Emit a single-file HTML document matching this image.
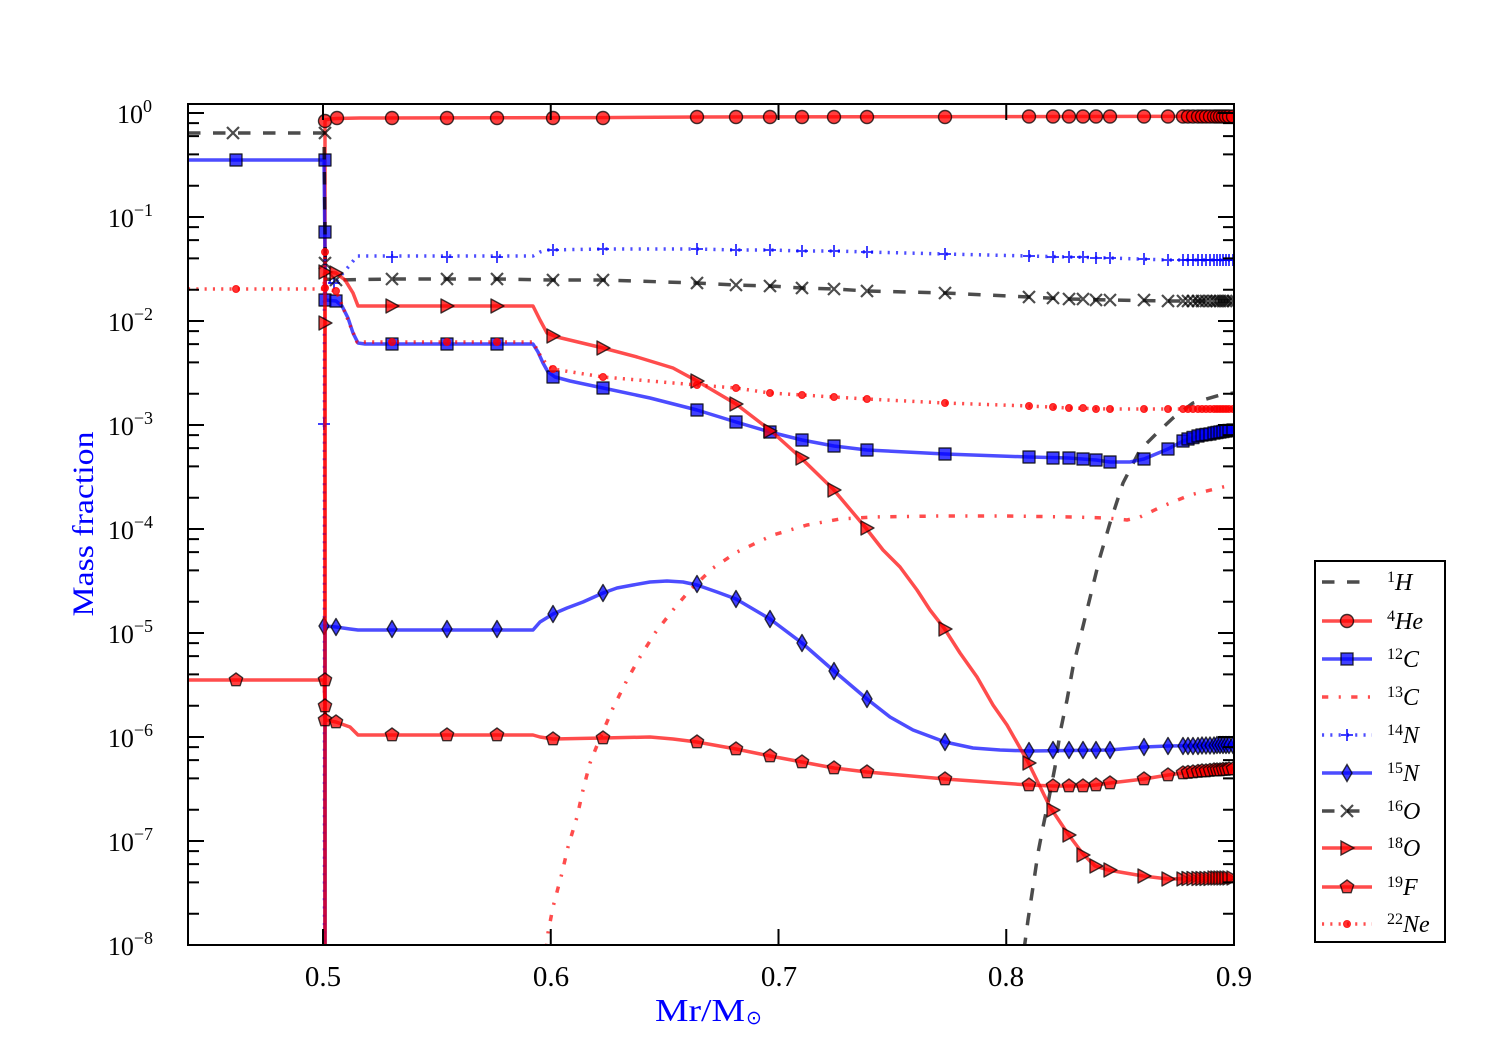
<!DOCTYPE html>
<html><head><meta charset="utf-8">
<style>
html,body{margin:0;padding:0;background:#fff;}
svg{display:block;font-family:"Liberation Serif",serif;}
.it{font-style:italic;}
</style></head>
<body>
<svg width="1500" height="1050" viewBox="0 0 1500 1050" xmlns="http://www.w3.org/2000/svg">
<defs>
<clipPath id="cp"><rect x="188" y="104" width="1046" height="841"/></clipPath>
<g id="mc"><circle r="6.5" fill="#f00" fill-opacity=".75" stroke="#000" stroke-opacity=".75" stroke-width="1.4"/></g>
<g id="ms"><rect x="-6" y="-6" width="12" height="12" fill="#00f" fill-opacity=".75" stroke="#000" stroke-opacity=".75" stroke-width="1.4"/></g>
<g id="md"><path d="M0,-8.5L5,0L0,8.5L-5,0Z" fill="#00f" fill-opacity=".75" stroke="#000" stroke-opacity=".75" stroke-width="1.4"/></g>
<g id="mp"><path d="M-6,0H6M0,-6V6" stroke="#00f" stroke-opacity=".75" stroke-width="2" fill="none"/></g>
<g id="mx"><path d="M-6,-6L6,6M-6,6L6,-6" stroke="#000" stroke-opacity=".7" stroke-width="2.2" fill="none"/></g>
<g id="mt"><path d="M7,0L-6,-7L-6,7Z" fill="#f00" fill-opacity=".75" stroke="#000" stroke-opacity=".75" stroke-width="1.4"/></g>
<g id="mg"><path d="M0,-7L6.66,-2.16L4.11,5.66L-4.11,5.66L-6.66,-2.16Z" fill="#f00" fill-opacity=".75" stroke="#000" stroke-opacity=".75" stroke-width="1.4"/></g>
<g id="mn"><circle r="3.5" fill="#f00" fill-opacity=".8" stroke="#f00" stroke-opacity=".8" stroke-width="1"/></g>
</defs>
<rect width="1500" height="1050" fill="#fff"/>

<g clip-path="url(#cp)" fill="none" stroke-width="3.5" stroke-linejoin="round">
<!-- 1H -->
<polyline stroke="#000" stroke-opacity=".7" stroke-dasharray="12.5 12.5" points="1024,950 1028,920 1033,887 1038,853 1043,827 1048,803 1055,767 1060,733 1067,700 1073,667 1087,610 1100,557 1110,523 1123,483 1140,450 1157,433 1173,418 1193,403 1220,395 1234,393"/>
<!-- 4He -->
<polyline stroke="#f00" stroke-opacity=".7" points="325,950 325,120 330,119 336,118.5 360,118 600,117.6 700,117 1000,116.6 1234,116.3"/>
<g>
<use href="#mc" x="325" y="121"/><use href="#mc" x="337" y="118"/><use href="#mc" x="392" y="118"/><use href="#mc" x="447" y="118"/><use href="#mc" x="497" y="118"/><use href="#mc" x="553" y="118"/><use href="#mc" x="603" y="118"/><use href="#mc" x="697" y="117"/><use href="#mc" x="736" y="117"/><use href="#mc" x="770" y="117"/><use href="#mc" x="802" y="117"/><use href="#mc" x="834" y="117"/><use href="#mc" x="867" y="117"/><use href="#mc" x="945" y="117"/><use href="#mc" x="1029" y="116.5"/><use href="#mc" x="1053" y="116.5"/><use href="#mc" x="1069" y="116.5"/><use href="#mc" x="1083" y="116.5"/><use href="#mc" x="1096" y="116.5"/><use href="#mc" x="1110" y="116.5"/><use href="#mc" x="1144" y="116.5"/><use href="#mc" x="1168" y="116.5"/><use href="#mc" x="1183" y="116.5"/><use href="#mc" x="1188" y="116.5"/><use href="#mc" x="1193" y="116.5"/><use href="#mc" x="1198" y="116.5"/><use href="#mc" x="1202" y="116.5"/><use href="#mc" x="1206" y="116.5"/><use href="#mc" x="1210" y="116.5"/><use href="#mc" x="1214" y="116.5"/><use href="#mc" x="1217" y="116.5"/><use href="#mc" x="1220" y="116.5"/><use href="#mc" x="1223" y="116.5"/><use href="#mc" x="1226" y="116.5"/><use href="#mc" x="1229" y="116.5"/><use href="#mc" x="1233" y="116.5"/>
</g>
<!-- 12C -->
<polyline stroke="#00f" stroke-opacity=".7" points="188,160 324,160 325.5,300 336,301 342,306 348,318 353,333 358,343 365,344 533,344 538,352 543,363 548,372 555,377 570,381 603,388 650,398 697,410 736,422 770,432 802,440 834,446 867,450 945,454 1029,457 1069,458 1096,460 1110,462 1130,462 1144,459 1168,449 1183,441 1195,437 1210,434 1234,430"/>
<g>
<use href="#ms" x="236" y="160"/><use href="#ms" x="325" y="160"/><use href="#ms" x="325" y="232"/><use href="#ms" x="325" y="300"/><use href="#ms" x="336" y="301"/><use href="#ms" x="392" y="344"/><use href="#ms" x="447" y="344"/><use href="#ms" x="497" y="344"/><use href="#ms" x="553" y="377"/><use href="#ms" x="603" y="388"/><use href="#ms" x="697" y="410"/><use href="#ms" x="736" y="422"/><use href="#ms" x="770" y="432"/><use href="#ms" x="802" y="440"/><use href="#ms" x="834" y="446"/><use href="#ms" x="867" y="450"/><use href="#ms" x="945" y="454"/><use href="#ms" x="1029" y="457"/><use href="#ms" x="1053" y="458"/><use href="#ms" x="1069" y="458"/><use href="#ms" x="1083" y="459"/><use href="#ms" x="1096" y="460"/><use href="#ms" x="1110" y="462"/><use href="#ms" x="1144" y="459"/><use href="#ms" x="1168" y="449"/><use href="#ms" x="1183" y="441"/><use href="#ms" x="1188" y="439"/><use href="#ms" x="1193" y="437.5"/><use href="#ms" x="1198" y="436"/><use href="#ms" x="1202" y="435"/><use href="#ms" x="1206" y="434.5"/><use href="#ms" x="1210" y="434"/><use href="#ms" x="1214" y="433"/><use href="#ms" x="1217" y="432.5"/><use href="#ms" x="1220" y="432"/><use href="#ms" x="1223" y="431.5"/><use href="#ms" x="1226" y="431"/><use href="#ms" x="1229" y="430.5"/><use href="#ms" x="1233" y="430"/>
</g>
<!-- 13C -->
<polyline stroke="#f00" stroke-opacity=".7" stroke-dasharray="6.3 10.4 2.1 10.4" points="546,950 548,933 553,907 562,873 568,847 577,817 583,790 590,763 598,743 607,722 613,708 627,680 640,657 655,633 673,610 690,590 713,568 737,552 773,535 807,525 840,519 873,517 940,516 1007,516 1073,517 1107,518 1127,520 1140,517 1163,506 1190,495 1223,487 1234,485"/>
<!-- 14N -->
<polyline stroke="#00f" stroke-opacity=".7" stroke-dasharray="2.1 6.2" points="324.5,950 324.5,282 336,282 343,273 350,265 357,256 533,256 540,252 547,250 603,249 697,249 736,250 770,250 802,251 834,251 867,252 945,254 1029,256 1110,258 1168,260 1234,260"/>
<g>
<use href="#mp" x="324" y="424"/><use href="#mp" x="334" y="283"/><use href="#mp" x="392" y="257"/><use href="#mp" x="447" y="257"/><use href="#mp" x="497" y="257"/><use href="#mp" x="553" y="250"/><use href="#mp" x="603" y="249"/><use href="#mp" x="697" y="249"/><use href="#mp" x="736" y="250"/><use href="#mp" x="770" y="250"/><use href="#mp" x="802" y="251"/><use href="#mp" x="834" y="251"/><use href="#mp" x="867" y="252"/><use href="#mp" x="945" y="254"/><use href="#mp" x="1029" y="256"/><use href="#mp" x="1053" y="257"/><use href="#mp" x="1069" y="257"/><use href="#mp" x="1083" y="257"/><use href="#mp" x="1096" y="258"/><use href="#mp" x="1110" y="258"/><use href="#mp" x="1144" y="259"/><use href="#mp" x="1168" y="260"/><use href="#mp" x="1183" y="260"/><use href="#mp" x="1188" y="260"/><use href="#mp" x="1193" y="260"/><use href="#mp" x="1198" y="260"/><use href="#mp" x="1202" y="260"/><use href="#mp" x="1206" y="260"/><use href="#mp" x="1210" y="260"/><use href="#mp" x="1214" y="260"/><use href="#mp" x="1217" y="260"/><use href="#mp" x="1220" y="260"/><use href="#mp" x="1223" y="260"/><use href="#mp" x="1226" y="260"/><use href="#mp" x="1229" y="260"/><use href="#mp" x="1233" y="260"/>
</g>
<!-- 15N -->
<polyline stroke="#00f" stroke-opacity=".7" points="325,950 325,626 336,627 350,629 358,630 533,630 540,622 553,614 567,608 583,602 603,593 617,588 633,585 650,582 667,581 683,582 697,585 717,592 736,599 770,619 802,643 834,671 867,699 890,717 913,730 945,742 973,748 1000,750 1029,751 1110,750 1144,747 1168,746 1234,745"/>
<g>
<use href="#md" x="324" y="626"/><use href="#md" x="336" y="627"/><use href="#md" x="392" y="629"/><use href="#md" x="447" y="629"/><use href="#md" x="497" y="629"/><use href="#md" x="553" y="614"/><use href="#md" x="603" y="593"/><use href="#md" x="697" y="584"/><use href="#md" x="736" y="599"/><use href="#md" x="770" y="619"/><use href="#md" x="802" y="643"/><use href="#md" x="834" y="671"/><use href="#md" x="867" y="699"/><use href="#md" x="945" y="742"/><use href="#md" x="1029" y="751"/><use href="#md" x="1053" y="750"/><use href="#md" x="1069" y="750"/><use href="#md" x="1083" y="750"/><use href="#md" x="1096" y="750"/><use href="#md" x="1110" y="750"/><use href="#md" x="1144" y="747"/><use href="#md" x="1168" y="746"/><use href="#md" x="1183" y="746"/><use href="#md" x="1188" y="746"/><use href="#md" x="1193" y="746"/><use href="#md" x="1198" y="746"/><use href="#md" x="1202" y="745.5"/><use href="#md" x="1206" y="745.5"/><use href="#md" x="1210" y="745.5"/><use href="#md" x="1214" y="745.5"/><use href="#md" x="1217" y="745"/><use href="#md" x="1220" y="745"/><use href="#md" x="1223" y="745"/><use href="#md" x="1226" y="745"/><use href="#md" x="1229" y="745"/><use href="#md" x="1233" y="745"/>
</g>
<!-- 16O -->
<polyline stroke="#000" stroke-opacity=".7" stroke-dasharray="12.5 12.5" points="188,133 324,133 325.5,279 336,280 392,279 497,279 553,280 603,280 697,283 736,285 770,286 802,288 834,289 867,291 945,293 1029,297 1069,299 1110,300 1168,301 1234,301"/>
<g>
<use href="#mx" x="233" y="133"/><use href="#mx" x="325" y="133"/><use href="#mx" x="325" y="263"/><use href="#mx" x="336" y="280"/><use href="#mx" x="392" y="279"/><use href="#mx" x="447" y="279"/><use href="#mx" x="497" y="279"/><use href="#mx" x="553" y="280"/><use href="#mx" x="603" y="280"/><use href="#mx" x="697" y="283"/><use href="#mx" x="736" y="285"/><use href="#mx" x="770" y="286"/><use href="#mx" x="802" y="288"/><use href="#mx" x="834" y="289"/><use href="#mx" x="867" y="291"/><use href="#mx" x="945" y="293"/><use href="#mx" x="1029" y="297"/><use href="#mx" x="1053" y="298"/><use href="#mx" x="1069" y="299"/><use href="#mx" x="1083" y="299"/><use href="#mx" x="1096" y="300"/><use href="#mx" x="1110" y="300"/><use href="#mx" x="1144" y="300"/><use href="#mx" x="1168" y="301"/><use href="#mx" x="1183" y="301"/><use href="#mx" x="1188" y="301"/><use href="#mx" x="1193" y="301"/><use href="#mx" x="1198" y="301"/><use href="#mx" x="1202" y="301"/><use href="#mx" x="1206" y="301"/><use href="#mx" x="1210" y="301"/><use href="#mx" x="1214" y="301"/><use href="#mx" x="1217" y="301"/><use href="#mx" x="1220" y="301"/><use href="#mx" x="1223" y="301"/><use href="#mx" x="1226" y="301"/><use href="#mx" x="1229" y="301"/><use href="#mx" x="1233" y="301"/>
</g>
<!-- 18O -->
<polyline stroke="#f00" stroke-opacity=".7" points="325,950 325,272 336,273 345,280 353,293 358,306 533,306 540,320 547,333 557,337 603,348 637,357 673,368 697,381 736,404 770,430 800,457 833,489 865,527 883,550 900,567 917,590 930,610 944,628 960,653 977,677 993,705 1007,725 1028,762 1050,807 1068,834 1083,854 1095,866 1108,870 1143,876 1168,879 1234,878"/>
<g>
<use href="#mt" x="325" y="272"/><use href="#mt" x="325" y="323"/><use href="#mt" x="336" y="273"/><use href="#mt" x="392" y="306"/><use href="#mt" x="447" y="306"/><use href="#mt" x="497" y="306"/><use href="#mt" x="553" y="336"/><use href="#mt" x="603" y="348"/><use href="#mt" x="697" y="381"/><use href="#mt" x="736" y="404"/><use href="#mt" x="770" y="431"/><use href="#mt" x="802" y="458"/><use href="#mt" x="834" y="490"/><use href="#mt" x="867" y="528"/><use href="#mt" x="945" y="629"/><use href="#mt" x="1029" y="763"/><use href="#mt" x="1053" y="810"/><use href="#mt" x="1069" y="835"/><use href="#mt" x="1083" y="855"/><use href="#mt" x="1096" y="866"/><use href="#mt" x="1110" y="870"/><use href="#mt" x="1144" y="876"/><use href="#mt" x="1168" y="879"/><use href="#mt" x="1183" y="879"/><use href="#mt" x="1188" y="878.5"/><use href="#mt" x="1193" y="878.5"/><use href="#mt" x="1198" y="878.5"/><use href="#mt" x="1202" y="878.5"/><use href="#mt" x="1206" y="878.5"/><use href="#mt" x="1210" y="878.5"/><use href="#mt" x="1214" y="878"/><use href="#mt" x="1217" y="878"/><use href="#mt" x="1220" y="878"/><use href="#mt" x="1223" y="878"/><use href="#mt" x="1226" y="878"/><use href="#mt" x="1229" y="878"/><use href="#mt" x="1233" y="878"/>
</g>
<!-- 19F -->
<polyline stroke="#f00" stroke-opacity=".7" points="188,680 324,680 325.5,720 336,722 350,727 358,735 533,735 540,737 553,739 603,738 650,737 673,739 697,742 736,749 770,756 802,762 834,768 867,772 945,779 1029,785 1053,786 1083,786 1096,785 1110,783 1144,779 1168,775 1183,773 1234,769"/>
<g>
<use href="#mg" x="236" y="680"/><use href="#mg" x="325" y="680"/><use href="#mg" x="325" y="706"/><use href="#mg" x="325" y="720"/><use href="#mg" x="336" y="722"/><use href="#mg" x="392" y="735"/><use href="#mg" x="447" y="735"/><use href="#mg" x="497" y="735"/><use href="#mg" x="553" y="739"/><use href="#mg" x="603" y="738"/><use href="#mg" x="697" y="742"/><use href="#mg" x="736" y="749"/><use href="#mg" x="770" y="756"/><use href="#mg" x="802" y="762"/><use href="#mg" x="834" y="768"/><use href="#mg" x="867" y="772"/><use href="#mg" x="945" y="779"/><use href="#mg" x="1029" y="785"/><use href="#mg" x="1053" y="786"/><use href="#mg" x="1069" y="786"/><use href="#mg" x="1083" y="786"/><use href="#mg" x="1096" y="785"/><use href="#mg" x="1110" y="783"/><use href="#mg" x="1144" y="779"/><use href="#mg" x="1168" y="775"/><use href="#mg" x="1183" y="773"/><use href="#mg" x="1188" y="772.5"/><use href="#mg" x="1193" y="772"/><use href="#mg" x="1198" y="771.5"/><use href="#mg" x="1202" y="771"/><use href="#mg" x="1206" y="771"/><use href="#mg" x="1210" y="770.5"/><use href="#mg" x="1214" y="770"/><use href="#mg" x="1217" y="770"/><use href="#mg" x="1220" y="770"/><use href="#mg" x="1223" y="769.5"/><use href="#mg" x="1226" y="769.5"/><use href="#mg" x="1229" y="769"/><use href="#mg" x="1233" y="769"/>
</g>
<!-- 22Ne -->
<polyline stroke="#f00" stroke-opacity=".7" stroke-dasharray="2.1 6.2" points="188,289 324,289 325,252 326,289 336,291 340,300 350,325 357,342 533,342 540,355 547,365 553,369 603,377 697,385 736,388 770,393 802,395 834,397 867,399 945,403 1029,406 1069,408 1110,409 1234,409"/>
<g>
<use href="#mn" x="236" y="289"/><use href="#mn" x="325" y="252"/><use href="#mn" x="325" y="288"/><use href="#mn" x="336" y="291"/><use href="#mn" x="392" y="342"/><use href="#mn" x="447" y="342"/><use href="#mn" x="497" y="342"/><use href="#mn" x="553" y="369"/><use href="#mn" x="603" y="377"/><use href="#mn" x="697" y="385"/><use href="#mn" x="736" y="388"/><use href="#mn" x="770" y="393"/><use href="#mn" x="802" y="395"/><use href="#mn" x="834" y="397"/><use href="#mn" x="867" y="399"/><use href="#mn" x="945" y="403"/><use href="#mn" x="1029" y="406"/><use href="#mn" x="1053" y="407"/><use href="#mn" x="1069" y="408"/><use href="#mn" x="1083" y="408"/><use href="#mn" x="1096" y="409"/><use href="#mn" x="1110" y="409"/><use href="#mn" x="1144" y="409"/><use href="#mn" x="1168" y="409"/><use href="#mn" x="1183" y="409"/><use href="#mn" x="1188" y="409"/><use href="#mn" x="1193" y="409"/><use href="#mn" x="1198" y="409"/><use href="#mn" x="1202" y="409"/><use href="#mn" x="1206" y="409"/><use href="#mn" x="1210" y="409"/><use href="#mn" x="1214" y="409"/><use href="#mn" x="1217" y="409"/><use href="#mn" x="1220" y="409"/><use href="#mn" x="1223" y="409"/><use href="#mn" x="1226" y="409"/><use href="#mn" x="1229" y="409"/><use href="#mn" x="1233" y="409"/>
</g>
</g>

<!-- ticks -->
<g stroke="#000" stroke-width="2" fill="none">
<path d="M188,113h16M188,217h16M188,321h16M188,425h16M188,529h16M188,633h16M188,737h16M188,841h16M188,945h16
M1234,113h-16M1234,217h-16M1234,321h-16M1234,425h-16M1234,529h-16M1234,633h-16M1234,737h-16M1234,841h-16M1234,945h-16
M323,945v-16M550.75,945v-16M778.5,945v-16M1006.25,945v-16
M323,104v16M550.75,104v16M778.5,104v16M1006.25,104v16"/>
<path d="M188,123.1h11M188,136.1h11M188,154.4h11M188,185.7h11
M188,227.1h11M188,240.1h11M188,258.4h11M188,289.7h11
M188,331.1h11M188,344.1h11M188,362.4h11M188,393.7h11
M188,435.1h11M188,448.1h11M188,466.4h11M188,497.7h11
M188,539.1h11M188,552.1h11M188,570.4h11M188,601.7h11
M188,643.1h11M188,656.1h11M188,674.4h11M188,705.7h11
M188,747.1h11M188,760.1h11M188,778.4h11M188,809.7h11
M188,851.1h11M188,864.1h11M188,882.4h11M188,913.7h11
M1234,123.1h-11M1234,136.1h-11M1234,154.4h-11M1234,185.7h-11
M1234,227.1h-11M1234,240.1h-11M1234,258.4h-11M1234,289.7h-11
M1234,331.1h-11M1234,344.1h-11M1234,362.4h-11M1234,393.7h-11
M1234,435.1h-11M1234,448.1h-11M1234,466.4h-11M1234,497.7h-11
M1234,539.1h-11M1234,552.1h-11M1234,570.4h-11M1234,601.7h-11
M1234,643.1h-11M1234,656.1h-11M1234,674.4h-11M1234,705.7h-11
M1234,747.1h-11M1234,760.1h-11M1234,778.4h-11M1234,809.7h-11
M1234,851.1h-11M1234,864.1h-11M1234,882.4h-11M1234,913.7h-11"/>
<rect x="188" y="104" width="1046" height="841"/>
</g>

<!-- y tick labels -->
<g font-size="26" fill="#000" text-anchor="end">
<text x="152" y="123">10<tspan font-size="18" dy="-11">0</tspan></text>
<text x="153" y="227">10<tspan font-size="18" dy="-11">−1</tspan></text>
<text x="153" y="331">10<tspan font-size="18" dy="-11">−2</tspan></text>
<text x="153" y="435">10<tspan font-size="18" dy="-11">−3</tspan></text>
<text x="153" y="539">10<tspan font-size="18" dy="-11">−4</tspan></text>
<text x="153" y="643">10<tspan font-size="18" dy="-11">−5</tspan></text>
<text x="153" y="747">10<tspan font-size="18" dy="-11">−6</tspan></text>
<text x="153" y="851">10<tspan font-size="18" dy="-11">−7</tspan></text>
<text x="153" y="955">10<tspan font-size="18" dy="-11">−8</tspan></text>
</g>
<!-- x tick labels -->
<g font-size="29" fill="#000" text-anchor="middle">
<text x="323" y="986">0.5</text>
<text x="551" y="986">0.6</text>
<text x="779" y="986">0.7</text>
<text x="1006" y="986">0.8</text>
<text x="1234" y="986">0.9</text>
</g>
<!-- axis labels -->
<text transform="translate(93,524) rotate(-90)" text-anchor="middle" font-size="30" fill="#0000ff" textLength="185" lengthAdjust="spacingAndGlyphs">Mass fraction</text>
<text x="655" y="1021" font-size="32" fill="#0000ff" textLength="90" lengthAdjust="spacingAndGlyphs">Mr/M</text>
<text x="746" y="1024" font-family="DejaVu Sans, sans-serif" font-size="19" fill="#0000ff">⊙</text>

<!-- legend -->
<rect x="1315" y="561" width="130" height="381" fill="#fff" stroke="#000" stroke-width="2"/>
<g fill="none" stroke-width="3.5">
<line x1="1322" y1="582" x2="1372" y2="582" stroke="#000" stroke-opacity=".7" stroke-dasharray="12.5 12.5"/>
<line x1="1322" y1="621" x2="1372" y2="621" stroke="#f00" stroke-opacity=".7"/>
<line x1="1322" y1="659" x2="1372" y2="659" stroke="#00f" stroke-opacity=".7"/>
<line x1="1322" y1="697" x2="1372" y2="697" stroke="#f00" stroke-opacity=".7" stroke-dasharray="6.3 10.4 2.1 10.4"/>
<line x1="1322" y1="735" x2="1372" y2="735" stroke="#00f" stroke-opacity=".7" stroke-dasharray="2.1 6.2"/>
<line x1="1322" y1="773" x2="1372" y2="773" stroke="#00f" stroke-opacity=".7"/>
<line x1="1322" y1="811" x2="1372" y2="811" stroke="#000" stroke-opacity=".7" stroke-dasharray="12.5 12.5"/>
<line x1="1322" y1="848" x2="1372" y2="848" stroke="#f00" stroke-opacity=".7"/>
<line x1="1322" y1="887" x2="1372" y2="887" stroke="#f00" stroke-opacity=".7"/>
<line x1="1322" y1="924" x2="1372" y2="924" stroke="#f00" stroke-opacity=".7" stroke-dasharray="2.1 6.2"/>
</g>
<use href="#mc" x="1347" y="621"/>
<use href="#ms" x="1347" y="659"/>
<use href="#mp" x="1347" y="735"/>
<use href="#md" x="1347" y="773"/>
<use href="#mx" x="1347" y="811"/>
<use href="#mt" x="1347" y="848"/>
<use href="#mg" x="1347" y="887"/>
<use href="#mn" x="1347" y="924"/>
<g font-size="24" fill="#000">
<text x="1387" y="590"><tspan font-size="16" dy="-8">1</tspan><tspan class="it" dy="8">H</tspan></text>
<text x="1387" y="629"><tspan font-size="16" dy="-8">4</tspan><tspan class="it" dy="8">He</tspan></text>
<text x="1387" y="667"><tspan font-size="16" dy="-8">12</tspan><tspan class="it" dy="8">C</tspan></text>
<text x="1387" y="705"><tspan font-size="16" dy="-8">13</tspan><tspan class="it" dy="8">C</tspan></text>
<text x="1387" y="743"><tspan font-size="16" dy="-8">14</tspan><tspan class="it" dy="8">N</tspan></text>
<text x="1387" y="781"><tspan font-size="16" dy="-8">15</tspan><tspan class="it" dy="8">N</tspan></text>
<text x="1387" y="819"><tspan font-size="16" dy="-8">16</tspan><tspan class="it" dy="8">O</tspan></text>
<text x="1387" y="856"><tspan font-size="16" dy="-8">18</tspan><tspan class="it" dy="8">O</tspan></text>
<text x="1387" y="895"><tspan font-size="16" dy="-8">19</tspan><tspan class="it" dy="8">F</tspan></text>
<text x="1387" y="932"><tspan font-size="16" dy="-8">22</tspan><tspan class="it" dy="8">Ne</tspan></text>
</g>
</svg>
</body></html>
